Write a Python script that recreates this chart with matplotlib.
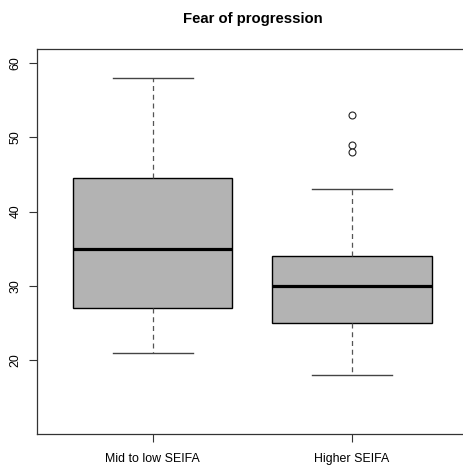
import matplotlib
matplotlib.use("Agg")
import matplotlib.pyplot as plt

plt.rcParams['font.family'] = ['Liberation Sans', 'DejaVu Sans']

# Five-number summaries per SEIFA group
groups = ["Mid to low SEIFA", "Higher SEIFA"]
whisker_low = [21, 18]
q1 = [27, 25]
median = [35, 30]
q3 = [44.5, 34]
whisker_high = [58, 43]
outliers = [[], [53, 49, 48]]

yticks = [20, 30, 40, 50, 60]
title = "Fear of progression"

W, H = 463, 465
fig = plt.figure(figsize=(W / 100, H / 100), dpi=100)
left_px, right_px, top_px, bottom_px = 37.3, 467.5, 49.0, 434.3
ax = fig.add_axes([left_px / W, 1 - bottom_px / H,
                   (right_px - left_px) / W, (bottom_px - top_px) / H])

stats = []
for i, g in enumerate(groups):
    stats.append(dict(label=g, whislo=whisker_low[i], q1=q1[i], med=median[i],
                      q3=q3[i], whishi=whisker_high[i], fliers=outliers[i]))

ax.bxp(stats, positions=[1, 2], widths=0.8, patch_artist=True,
       boxprops=dict(facecolor="#B3B3B3", edgecolor="black", linewidth=1.0),
       medianprops=dict(color="black", linewidth=2.3, solid_capstyle="butt"),
       whiskerprops=dict(color="#555555", linewidth=0.9, linestyle=(0, (4, 3))),
       capprops=dict(color="#444444", linewidth=1.0),
       flierprops=dict(marker="o", markerfacecolor="white", markeredgecolor="#222222",
                       markersize=5.0, markeredgewidth=0.8),
       capwidths=0.4)

ax.set_xlim(0.42, 2.58)
ax.set_ylim(10, 61.9)
ax.set_yticks(yticks)
ax.set_yticklabels([str(t) for t in yticks], rotation=90, va="center")
ax.set_xticks([1, 2])
ax.set_xticklabels(groups)
ax.tick_params(axis="both", direction="out", length=5.5, width=0.8,
               labelsize=8.9, color="#333333")
ax.tick_params(axis="x", pad=8)
ax.tick_params(axis="y", pad=6)
for s in ax.spines.values():
    s.set_linewidth(0.9)
    s.set_color("#333333")
ax.spines["right"].set_visible(False)

fig.text((left_px + right_px) / 2 / W, 1 - 19.5 / H, title, ha="center", va="center",
         fontsize=10.7, fontweight="bold")

fig.savefig("out.png", dpi=100)
